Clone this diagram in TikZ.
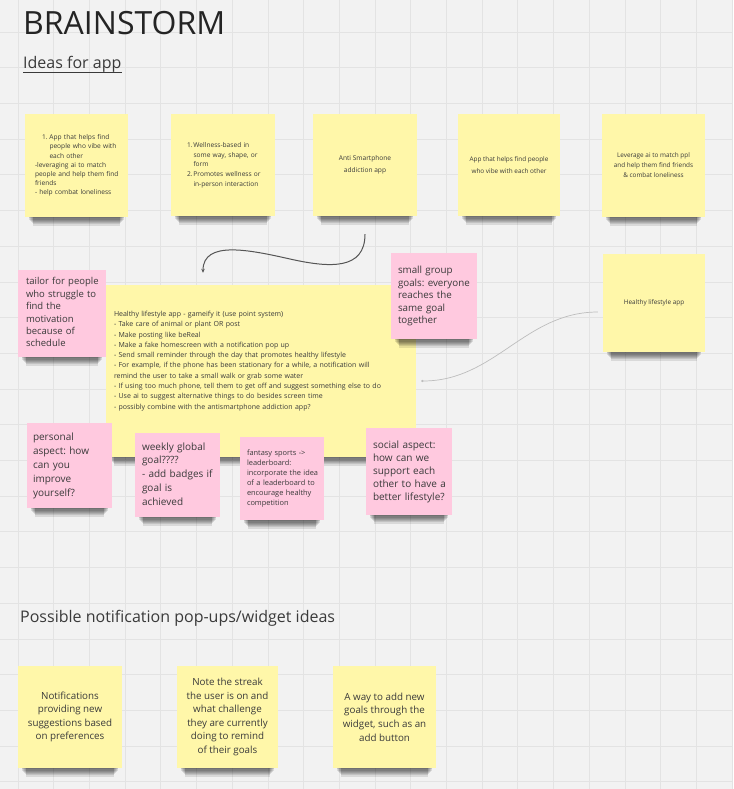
\documentclass[tikz,border=0pt]{standalone}
\usepackage{fontspec}
\setmainfont{Open Sans}
\frenchspacing
\usetikzlibrary{arrows.meta}
\definecolor{bgc}{HTML}{F2F2F2}
\definecolor{gridc}{HTML}{E3E3E3}
\definecolor{yel}{HTML}{FFF7A9}
\definecolor{pnk}{HTML}{FFC9DF}
\definecolor{txt}{HTML}{3A3A3A}
\definecolor{ttl}{HTML}{242424}
\definecolor{conn}{HTML}{555555}
\definecolor{connl}{HTML}{BDBDBD}
\newcommand{\nlines}[1]{\noindent\begin{tabular}{@{}l@{}}#1\end{tabular}}
\newcommand{\fs}[2]{\fontsize{#1}{#2}\selectfont}
\newcommand{\shadowof}[1]{%
  \foreach \k in {1,...,7} {%
    \fill[black, opacity=0.1] ([xshift={3pt+0.8pt*\k}]#1.south west) rectangle ([xshift={-3pt-0.8pt*\k}, yshift={-1.2pt*\k}]#1.south east);
  }}
\tikzset{
  note/.style={draw=none, inner ysep=0pt, text=txt},
  ynote/.style={note, fill=yel},
  pnote/.style={note, fill=pnk},
  sz/.style n args={2}{minimum width=#1pt, minimum height=#2pt},
  lnote/.style n args={2}{align=left, inner xsep=#1pt, text width=#2pt},
  cnote/.style={align=center, inner xsep=0pt},
  heading/.style={inner sep=0pt, anchor=base west, text=ttl},
}
\begin{document}
\begin{tikzpicture}[x=1pt, y=-1pt]
\useasboundingbox (0,0) rectangle (733,789);
\fill[bgc] (0,0) rectangle (733,789);
\foreach \i in {0,...,20} \draw[gridc, line width=0.8pt] ({18+35.7*\i},0) -- ({18+35.7*\i},789);
\foreach \j in {0,...,21} \draw[gridc, line width=0.8pt] (0,{32+35.7*\j}) -- (733,{32+35.7*\j});

% headings
\node[heading, font=\fs{32}{38}] (title) at (23,35) {BRAINSTORM};
\node[heading, font=\fs{16}{19}, text=txt] (ideas) at (23,69) {Ideas for app};
\draw[txt, line width=0.9pt] ([yshift=-3pt]ideas.base west) -- ([yshift=-3pt]ideas.base east);
\node[heading, font=\fs{16}{19}, text=txt] (poss) at (20,622) {Possible notification pop-ups/widget ideas};

% top row
\node[ynote, sz={103}{103}, lnote={10}{83}, font=\fs{6.6}{9.2}] (n1) at (76.5,165.5) {\nlines{%
\hspace*{7pt}\makebox[7.5pt][l]{1.}App that helps find\\
\hspace*{14.5pt}people who vibe with\\
\hspace*{14.5pt}each other\\
-leveraging ai to match\\
people and help them find\\
friends\\
- help combat loneliness}};
\shadowof{n1}
\node[ynote, sz={104}{102}, lnote={16}{72}, font=\fs{6.6}{9.7}] (n2) at (223,165) {\nlines{%
\makebox[6.5pt][l]{1.}Wellness-based in\\
\hspace*{6.5pt}some way, shape, or\\
\hspace*{6.5pt}form\\
\makebox[6.5pt][l]{2.}Promotes wellness or\\
\hspace*{6.5pt}in-person interaction}};
\shadowof{n2}
\node[ynote, sz={104}{102}, cnote, font=\fs{6.6}{12}] (n3) at (365,165) {Anti Smartphone\\addiction app};
\shadowof{n3}
\node[ynote, sz={102}{102}, cnote, font=\fs{6.4}{12}] (n4) at (509,165) {App that helps find people\\who vibe with each other};
\shadowof{n4}
\node[ynote, sz={103}{103}, cnote, font=\fs{6.4}{10}] (n5) at (653.5,165.5) {Leverage ai to match ppl\\and help them find friends\\\& combat loneliness};
\shadowof{n5}

% middle
\node[ynote, sz={102}{98}, cnote, font=\fs{6.4}{10}] (r) at (654,303) {Healthy lifestyle app};
\shadowof{r}
\node[ynote, sz={310}{172}, lnote={8}{294}, font=\fs{7}{10.3}] (big) at (261,371) {\nlines{%
Healthy lifestyle app - gameify it (use point system)\\
- Take care of animal or plant OR post\\
- Make posting like beReal\\
- Make a fake homescreen with a notification pop up\\
- Send small reminder through the day that promotes healthy lifestyle\\
- For example, if the phone has been stationary for a while, a notification will\\
remind the user to take a small walk or grab some water\\
- If using too much phone, tell them to get off and suggest something else to do\\
- Use ai to suggest alternative things to do besides screen time\\
- possibly combine with the antismartphone addiction app?\\
\strut\\
\strut}};
\shadowof{big}

\node[pnote, sz={88}{87}, lnote={8}{72}, font=\fs{9.5}{12.4}] (p1) at (62,313.5) {\nlines{%
tailor for people\\who struggle to\\find the\\motivation\\because of\\schedule}};
\shadowof{p1}
\node[pnote, sz={86}{86}, lnote={7}{72}, font=\fs{9.8}{12.5}] (p2) at (434,296) {\nlines{%
small group\\goals: everyone\\reaches the\\same goal\\together}};
\shadowof{p2}
\node[pnote, sz={85}{85}, lnote={6}{73}, font=\fs{10}{14}] (p3) at (69.5,465.5) {\nlines{%
personal\\aspect: how\\can you\\improve\\yourself?}};
\shadowof{p3}
\node[pnote, sz={85}{84}, lnote={7}{71}, font=\fs{10}{13.8}] (p4) at (177.5,475) {\nlines{%
weekly global\\goal????\\- add badges if\\goal is\\achieved}};
\shadowof{p4}
\node[pnote, sz={84}{83}, lnote={7}{70}, font=\fs{7.4}{10}] (p5) at (282,478.5) {\nlines{%
fantasy sports ->\\leaderboard:\\incorporate the idea\\of a leaderboard to\\encourage healthy\\competition}};
\shadowof{p5}
\node[pnote, sz={86}{87}, lnote={7}{72}, font=\fs{10}{13}] (p6) at (409,471.5) {\nlines{%
social aspect:\\how can we\\support each\\other to have a\\better lifestyle?}};
\shadowof{p6}

% bottom row
\node[ynote, sz={104}{102}, cnote, font=\fs{9.8}{13.6}] (b1) at (70,717) {Notifications\\providing new\\suggestions based\\on preferences};
\shadowof{b1}
\node[ynote, sz={101}{102}, cnote, font=\fs{9.8}{13.6}] (b2) at (227.5,717) {Note the streak\\the user is on and\\what challenge\\they are currently\\doing to remind\\of their goals};
\shadowof{b2}
\node[ynote, sz={103}{102}, cnote, font=\fs{9.8}{13.6}] (b3) at (384.5,717) {A way to add new\\goals through the\\widget, such as an\\add button};
\shadowof{b3}

% connectors
\coordinate (c1s) at ([yshift=-18pt]n3.south);
\coordinate (c1e) at ([xshift=-58pt,yshift=12pt]big.north);
\draw[conn, line width=1pt, -{Stealth[length=4pt,width=3.5pt]}]
  (c1s) .. controls (365,270) and (330,268) .. (290,259)
        .. controls (250,250) and (203,240) .. (c1e);
\coordinate (c2s) at ([xshift=-5pt,yshift=-9pt]r.west);
\coordinate (c2e) at ([xshift=5pt,yshift=-10pt]big.east);
\draw[connl, line width=0.7pt, -{Circle[length=2.2pt]}]
  (c2s) .. controls (525,312) and (495,381) .. (c2e);
\end{tikzpicture}
\end{document}
